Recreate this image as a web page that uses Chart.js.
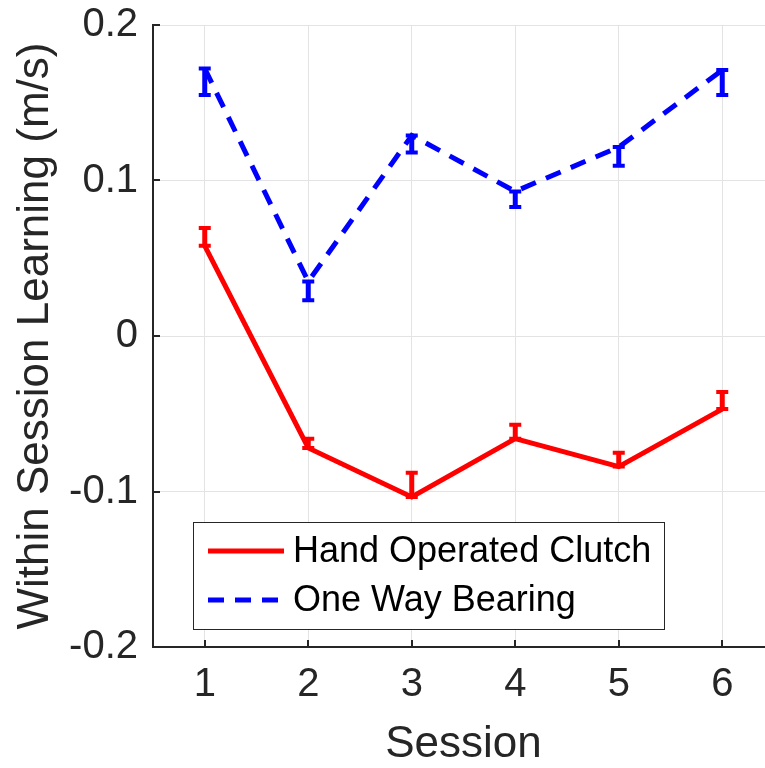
<!DOCTYPE html>
<html>
<head>
<meta charset="utf-8">
<title>Within Session Learning</title>
<script src="https://cdn.jsdelivr.net/npm/chart.js@4.4.0/dist/chart.umd.min.js"></script>
<style>
  html, body { margin: 0; padding: 0; background: #fff; overflow: hidden; }
  #wrap { width: 790px; height: 768px; }
</style>
</head>
<body>
<div id="wrap"><canvas id="learningChart" width="790" height="768"></canvas></div>
<script>
// Values
const sessions = [1, 2, 3, 4, 5, 6];
const yTicks = [-0.2, -0.1, 0, 0.1, 0.2];
const clutchLabel = 'Hand Operated Clutch';
const clutchMean = [0.058, -0.072, -0.1035, -0.066, -0.084, -0.047];
const clutchErrUp = [0.0115, 0.006, 0.0155, 0.009, 0.009, 0.011];
const bearingLabel = 'One Way Bearing';
const bearingMean = [0.172, 0.035, 0.129, 0.093, 0.1215, 0.171];
const bearingErrDown = [0.017, 0.012, 0.011, 0.010, 0.012, 0.016];

const FONT = '"Liberation Sans", Arial, Helvetica, sans-serif';
const INK = '#262626';

// one-sided error bars (clutch goes up, bearing goes down)
const errorBars = {
  id: 'errorBars',
  afterDatasetsDraw(chart) {
    const ctx = chart.ctx;
    const x = chart.scales.x, y = chart.scales.y;
    const sets = [
      { mean: clutchMean, err: clutchErrUp, sign: 1, color: '#ff0000' },
      { mean: bearingMean, err: bearingErrDown, sign: -1, color: '#0000ff' }
    ];
    ctx.save();
    sets.forEach(s => {
      ctx.strokeStyle = s.color;
      sessions.forEach((sx, i) => {
        const px = x.getPixelForValue(sx);
        const y0 = y.getPixelForValue(s.mean[i]);
        const y1 = y.getPixelForValue(s.mean[i] + s.sign * s.err[i]);
        ctx.lineWidth = 5;
        ctx.beginPath();
        ctx.moveTo(px, y0);
        ctx.lineTo(px, y1);
        ctx.stroke();
        ctx.lineWidth = 4;
        ctx.beginPath();
        ctx.moveTo(px - 6, y0); ctx.lineTo(px + 6, y0);
        ctx.moveTo(px - 6, y1); ctx.lineTo(px + 6, y1);
        ctx.stroke();
      });
    });
    ctx.restore();
  }
};

// inward tick marks like matlab
const innerTicks = {
  id: 'innerTicks',
  afterDraw(chart) {
    const ctx = chart.ctx;
    const area = chart.chartArea;
    const x = chart.scales.x, y = chart.scales.y;
    ctx.save();
    ctx.strokeStyle = INK;
    ctx.lineWidth = 2;
    ctx.beginPath();
    yTicks.forEach(v => {
      const py = Math.round(y.getPixelForValue(v));
      ctx.moveTo(area.left, py);
      ctx.lineTo(area.left + 7, py);
    });
    sessions.forEach(v => {
      const px = Math.round(x.getPixelForValue(v));
      ctx.moveTo(px, area.bottom);
      ctx.lineTo(px, area.bottom - 7);
    });
    ctx.stroke();
    ctx.restore();
  }
};

// legend box inside the axes, lower left
const boxLegend = {
  id: 'boxLegend',
  afterDraw(chart) {
    const ctx = chart.ctx;
    const left = 193, top = 522, w = 471, h = 107;
    ctx.save();
    ctx.fillStyle = '#ffffff';
    ctx.fillRect(left, top, w, h);
    ctx.strokeStyle = INK;
    ctx.lineWidth = 1;
    ctx.strokeRect(left + 0.5, top + 0.5, w, h);
    const rows = [
      { label: clutchLabel, color: '#ff0000', dash: [] , cy: top + 29 },
      { label: bearingLabel, color: '#0000ff', dash: [16, 11], cy: top + 78 }
    ];
    ctx.font = '36px ' + FONT;
    ctx.textBaseline = 'middle';
    rows.forEach(r => {
      ctx.strokeStyle = r.color;
      ctx.lineWidth = 5;
      ctx.setLineDash(r.dash);
      ctx.beginPath();
      ctx.moveTo(left + 15, r.cy);
      ctx.lineTo(left + 91, r.cy);
      ctx.stroke();
      ctx.setLineDash([]);
      ctx.fillStyle = '#000000';
      ctx.fillText(r.label, left + 100, r.cy + 1);
    });
    ctx.restore();
  }
};

const ctx = document.getElementById('learningChart').getContext('2d');
new Chart(ctx, {
  type: 'line',
  data: {
    datasets: [
      {
        label: clutchLabel,
        data: sessions.map((s, i) => ({ x: s, y: clutchMean[i] })),
        borderColor: '#ff0000',
        borderWidth: 5,
        pointRadius: 0,
        tension: 0,
        fill: false
      },
      {
        label: bearingLabel,
        data: sessions.map((s, i) => ({ x: s, y: bearingMean[i] })),
        borderColor: '#0000ff',
        borderWidth: 5,
        borderDash: [16, 11],
        pointRadius: 0,
        tension: 0,
        fill: false
      }
    ]
  },
  options: {
    responsive: false,
    animation: false,
    devicePixelRatio: 1,
    layout: { padding: { top: 25, right: 16, left: 0, bottom: 0 } },
    plugins: {
      legend: { display: false },
      tooltip: { enabled: false }
    },
    scales: {
      x: {
        type: 'linear',
        min: 0.5,
        max: 6.5,
        afterBuildTicks: scale => { scale.ticks = sessions.map(v => ({ value: v })); },
        afterFit: scale => {
          scale.height = 121;
          scale.paddingLeft = 0;
          scale.paddingRight = 0;
        },
        grid: { color: '#e3e3e3', lineWidth: 1, drawTicks: false },
        border: { color: INK, width: 2 },
        ticks: {
          padding: 14,
          color: INK,
          font: { family: FONT, size: 40 },
          callback: v => String(v),
          maxRotation: 0
        },
        title: {
          display: true,
          text: 'Session',
          color: INK,
          font: { family: FONT, size: 44, lineHeight: 1 },
          padding: { top: 0, bottom: 1 }
        }
      },
      y: {
        min: -0.2,
        max: 0.2,
        afterBuildTicks: scale => { scale.ticks = yTicks.map(v => ({ value: v })); },
        afterFit: scale => {
          scale.width = 153;
          scale.paddingTop = 0;
          scale.paddingBottom = 0;
        },
        grid: { color: '#e3e3e3', lineWidth: 1, drawTicks: false },
        border: { color: INK, width: 2 },
        ticks: {
          padding: 15,
          color: INK,
          font: { family: FONT, size: 40 },
          callback: v => (v === 0 ? '0' : v.toFixed(1))
        },
        title: {
          display: true,
          text: 'Within Session Learning (m/s)',
          color: INK,
          font: { family: FONT, size: 44, lineHeight: 1 },
          padding: { top: 14, bottom: 0 }
        }
      }
    }
  },
  plugins: [errorBars, innerTicks, boxLegend]
});
</script>
</body>
</html>
